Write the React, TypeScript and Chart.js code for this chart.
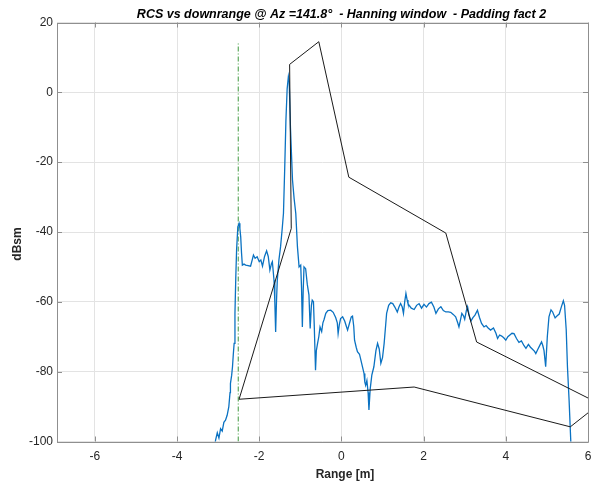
import React, { useEffect, useRef } from "react";
import { Chart, registerables } from "chart.js";

Chart.register(...registerables);

const FAM = "'Liberation Sans', Arial, Helvetica, sans-serif";

const TITLE = "RCS vs downrange @ Az =141.8°  - Hanning window  - Padding fact 2";
const X_LABEL = "Range [m]";
const Y_LABEL = "dBsm";

const X_TICKS = [-6, -4, -2, 0, 2, 4, 6];
const Y_TICKS = [-100, -80, -60, -40, -20, 0, 20];

const RANGE_M = [
  -3.12, -3.06, -3.02, -2.98, -2.94, -2.9, -2.86, -2.82, -2.78, -2.74, -2.71, -2.7, -2.67, -2.65, -2.63, -2.61,
  -2.59, -2.57, -2.55, -2.52, -2.49, -2.47, -2.45, -2.43, -2.41, -2.37, -2.33, -2.27, -2.21, -2.17, -2.14, -2.1,
  -2.05, -2.0, -1.96, -1.92, -1.87, -1.82, -1.78, -1.74, -1.7, -1.68, -1.64, -1.62, -1.6, -1.58, -1.56, -1.52,
  -1.48, -1.44, -1.41, -1.38, -1.35, -1.32, -1.29, -1.27, -1.24, -1.19, -1.15, -1.11, -1.07, -1.03, -0.99, -0.97,
  -0.95, -0.93, -0.91, -0.87, -0.83, -0.79, -0.76, -0.73, -0.71, -0.68, -0.66, -0.63, -0.61, -0.58, -0.55, -0.52,
  -0.48, -0.45, -0.42, -0.38, -0.33, -0.26, -0.2, -0.14, -0.1, -0.08, -0.05, -0.02, 0.03, 0.08, 0.12, 0.15,
  0.2, 0.24, 0.27, 0.3, 0.32, 0.36, 0.39, 0.44, 0.48, 0.52, 0.55, 0.57, 0.59, 0.62, 0.65, 0.67,
  0.7, 0.74, 0.79, 0.84, 0.88, 0.92, 0.96, 1.0, 1.04, 1.08, 1.1, 1.15, 1.2, 1.25, 1.3, 1.36,
  1.4, 1.44, 1.48, 1.51, 1.54, 1.57, 1.6, 1.62, 1.66, 1.7, 1.77, 1.83, 1.89, 1.95, 2.01, 2.07,
  2.13, 2.19, 2.25, 2.3, 2.36, 2.42, 2.48, 2.54, 2.6, 2.66, 2.72, 2.78, 2.83, 2.86, 2.9, 2.93,
  2.97, 3.0, 3.04, 3.07, 3.11, 3.15, 3.2, 3.25, 3.31, 3.36, 3.41, 3.47, 3.52, 3.57, 3.63, 3.7,
  3.76, 3.8, 3.85, 3.9, 3.95, 4.0, 4.05, 4.1, 4.15, 4.2, 4.26, 4.32, 4.38, 4.44, 4.49, 4.55,
  4.6, 4.65, 4.7, 4.73, 4.78, 4.83, 4.87, 4.9, 4.93, 4.97, 5.01, 5.05, 5.1, 5.14, 5.2, 5.25,
  5.3, 5.35, 5.4, 5.43, 5.47, 5.5, 5.54, 5.58, 5.6, 5.62, 5.64,
];

const RCS_DBSM = [
  -104, -99.5, -97.5, -99, -96.3, -97, -94.5, -93.9, -92.5, -90.1, -86, -83.4, -81, -78.6, -75, -71.9,
  -63.3, -53, -45, -38.5, -37.5, -39, -41.4, -46, -49.5, -49.2, -49.5, -49.6, -49.8, -48, -46.6, -47.5,
  -47.1, -48.5, -48, -49.8, -47, -45.4, -47, -50.9, -49, -48.5, -53.8, -60, -68.6, -60, -53.8, -48,
  -44.2, -39, -34.7, -22, -8, 1, 4.5, 3, -10, -25.1, -30.5, -34.7, -44.2, -50, -49.5, -56,
  -67.2, -57, -50, -50.5, -55, -58, -67.6, -61, -59.5, -60, -67, -79.6, -74, -71.9, -70, -67.2,
  -68.5, -66, -65, -63.3, -62.5, -62.4, -63, -64.5, -66, -69.1, -66.5, -64.8, -64.3, -65.5, -67, -68.1,
  -66, -64.3, -64.1, -67, -71, -73, -74.3, -75, -77, -79, -80.5, -83, -83.9, -82.5, -86, -91,
  -85, -81, -78.6, -74, -71.9, -73.5, -77.6, -76, -71.9, -66.2, -63.3, -61, -60.3, -60.5, -61.5, -62.9,
  -61.5, -60.5, -61.5, -63.3, -60, -57.6, -59.5, -60.5, -61.2, -61.8, -62.2, -61, -60.5, -61.8, -60.7, -61.5,
  -60.5, -60.1, -61.5, -63.3, -62, -61.4, -62.5, -62.9, -62.9, -63, -63.6, -64.3, -66, -67.2, -65, -63.3,
  -64, -65, -62.5, -61.4, -64, -65.5, -64.5, -63.8, -62.4, -64.5, -66.2, -67.2, -66.8, -67.5, -68.1, -67.5,
  -69, -70.5, -69.5, -69.8, -70.3, -71, -70, -69.5, -69, -69.1, -70.5, -71.6, -71.2, -72.5, -73.3, -72.2,
  -73, -73.6, -74.2, -74.8, -73.6, -72.4, -71.5, -72.5, -74, -78.6, -70, -64.3, -62.3, -62.9, -64.6, -64,
  -63.5, -61.5, -59.7, -61, -68, -78.6, -88.2, -99.6, -106, -101, -106,
];

const OUTLINE_X = [-2.49, -1.22, -1.26, -0.55, 0.18, 2.54, 3.29, 6.28, 5.57, 1.77, -2.49];
const OUTLINE_Y = [-87.9, -39.0, 8.0, 14.5, -24.3, -40.3, -71.5, -89.2, -95.8, -84.4, -87.9];

const MARKER_X = [-2.51, -2.51];
const MARKER_Y = [-100, 14.5];

const AXIS_COLOR = "#8f8f8f";
const TEXT_COLOR = "#262626";

const boxPlugin = {
  id: "matlabBox",
  afterDraw(chart: any) {
    const { ctx, chartArea } = chart;
    const { left, right, top, bottom } = chartArea;
    const xs = chart.scales.x;
    const ys = chart.scales.y;
    ctx.save();
    ctx.strokeStyle = AXIS_COLOR;
    ctx.lineWidth = 1;
    ctx.beginPath();
    ctx.rect(Math.round(left) + 0.5, Math.round(top) + 0.5, Math.round(right - left), Math.round(bottom - top));
    ctx.stroke();
    const tl = 5;
    ctx.beginPath();
    X_TICKS.forEach((v) => {
      const px = Math.round(xs.getPixelForValue(v)) + 0.5;
      ctx.moveTo(px, bottom);
      ctx.lineTo(px, bottom - tl);
      ctx.moveTo(px, top);
      ctx.lineTo(px, top + tl);
    });
    Y_TICKS.forEach((v) => {
      const py = Math.round(ys.getPixelForValue(v)) + 0.5;
      ctx.moveTo(left, py);
      ctx.lineTo(left + tl, py);
      ctx.moveTo(right, py);
      ctx.lineTo(right - tl, py);
    });
    ctx.stroke();

    // chart title
    ctx.fillStyle = "#000000";
    ctx.font = `italic bold 12.5px ${FAM}`;
    ctx.textAlign = "center";
    ctx.textBaseline = "alphabetic";
    ctx.fillText(TITLE, 341.5, 18);

    // x axis label
    ctx.fillStyle = TEXT_COLOR;
    ctx.font = `bold 12px ${FAM}`;
    ctx.textBaseline = "middle";
    ctx.fillText(X_LABEL, 345, 475);

    // y axis label
    ctx.translate(18, 244);
    ctx.rotate(-Math.PI / 2);
    ctx.fillText(Y_LABEL, 0, 0);
    ctx.restore();
  },
};

export default function App() {
  const canvasRef = useRef<HTMLCanvasElement | null>(null);

  useEffect(() => {
    const canvas = canvasRef.current;
    if (!canvas) return;
    const chart = new Chart(canvas, {
      type: "line",
      data: {
        datasets: [
          {
            label: "outline",
            data: OUTLINE_X.map((x, i) => ({ x, y: OUTLINE_Y[i] })),
            borderColor: "#1a1a1a",
            borderWidth: 1,
            pointRadius: 0,
            tension: 0,
            order: 0,
          },
          {
            label: "RCS",
            data: RANGE_M.map((x, i) => ({ x, y: RCS_DBSM[i] })),
            borderColor: "#0a72c2",
            borderWidth: 1.3,
            pointRadius: 0,
            tension: 0,
            order: 1,
          },
          {
            label: "marker",
            data: MARKER_X.map((x, i) => ({ x, y: MARKER_Y[i] })),
            borderColor: "#3f9a3f",
            borderWidth: 1,
            borderDash: [5, 2, 1, 2],
            pointRadius: 0,
            tension: 0,
            order: 2,
          },
        ],
      },
      options: {
        animation: false,
        responsive: true,
        maintainAspectRatio: false,
        layout: { padding: { left: 0, right: 94, top: 22.5, bottom: 0 } },
        plugins: {
          legend: { display: false },
          tooltip: { enabled: false },
          title: { display: false },
        },
        scales: {
          x: {
            type: "linear",
            min: -6.92,
            max: 6,
            afterFit: (scale: any) => {
              scale.height = 42.5;
            },
            ticks: {
              stepSize: 2,
              includeBounds: false,
              color: TEXT_COLOR,
              font: { family: FAM, size: 12 },
              padding: 8,
              maxRotation: 0,
              autoSkip: false,
            },
            grid: { color: "#e3e3e3", drawTicks: false },
            border: { display: false },
          },
          y: {
            type: "linear",
            min: -100,
            max: 20,
            afterFit: (scale: any) => {
              scale.width = 57;
            },
            ticks: {
              stepSize: 20,
              color: TEXT_COLOR,
              font: { family: FAM, size: 12 },
              padding: 4,
            },
            grid: { color: "#e3e3e3", drawTicks: false },
            border: { display: false },
          },
        },
      },
      plugins: [boxPlugin],
    });
    return () => chart.destroy();
  }, []);

  return (
    <div style={{ position: "fixed", left: 0, top: 0, width: 596, height: 484, overflow: "hidden", background: "#fff" }}>
      <div style={{ position: "relative", width: 682, height: 484 }}>
        <canvas ref={canvasRef} />
      </div>
    </div>
  );
}
